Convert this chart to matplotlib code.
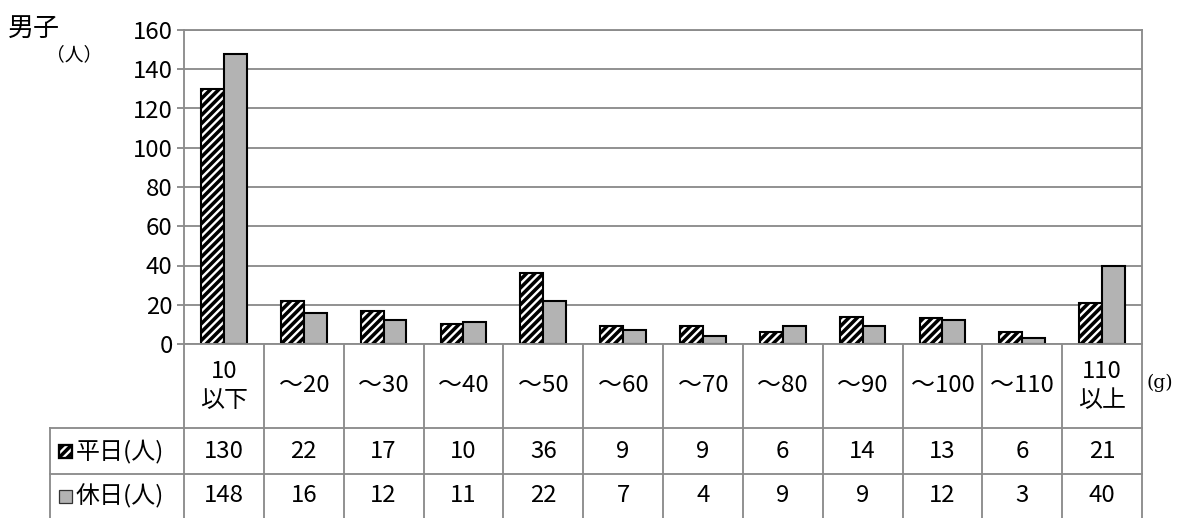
import matplotlib
matplotlib.use("Agg")
from matplotlib import pyplot as plt
from matplotlib.patches import Rectangle
import matplotlib.transforms as mtransforms
import numpy as np

plt.rcParams['font.family'] = ['Noto Sans CJK JP', 'DejaVu Sans']
plt.rcParams['hatch.linewidth'] = 3.4

# data
categories = ['10\n以下', '～20', '～30', '～40', '～50', '～60', '～70',
              '～80', '～90', '～100', '～110', '110\n以上']
weekday = [130, 22, 17, 10, 36, 9, 9, 6, 14, 13, 6, 21]
holiday = [148, 16, 12, 11, 22, 7, 4, 9, 9, 12, 3, 40]
series_names = ['平日(人)', '休日(人)']

W, H, DPI = 1179, 518, 75
GRID = '#8c8c8c'
GREY_BAR = '#b3b3b3'
FS = 23

fig = plt.figure(figsize=(W / DPI, H / DPI), dpi=DPI)

# pixel helper: figure pixel coords (top-left origin) -> figure fraction
def fx(x):
    return x / W

def fy(y):
    return 1 - y / H

left, right, top, zero = 184, 1142, 30, 344
ax = fig.add_axes([fx(left), fy(zero), fx(right - left), (zero - top) / H])

x = np.arange(len(categories))
bw = 0.285
ax.bar(x - bw / 2, weekday, bw, facecolor='white', edgecolor='black',
       hatch='///', linewidth=2.0, zorder=3)
ax.bar(x + bw / 2, holiday, bw, facecolor=GREY_BAR, edgecolor='black',
       linewidth=2.0, zorder=3)

ax.set_xlim(-0.5, len(categories) - 0.5)
ax.set_ylim(0, 160)
ax.set_yticks(np.arange(0, 161, 20))
ax.tick_params(axis='y', direction='out', length=7, width=1.8, color=GRID,
               labelsize=FS, pad=4)
ax.set_xticks([])
ax.grid(axis='y', color=GRID, linewidth=1.8, zorder=0)
ax.set_axisbelow(True)
for s in ax.spines.values():
    s.set_color(GRID)
    s.set_linewidth(1.8)
ax.spines['bottom'].set_zorder(4)

# data table under the plot
tr = mtransforms.blended_transform_factory(ax.transData, fig.transFigure)
row1, row2, bottom = 428, 474, 518
for i in range(len(categories) + 1):
    fig.add_artist(plt.Line2D([i - 0.5, i - 0.5], [fy(zero), fy(bottom)],
                              transform=tr, color=GRID, lw=1.8))
for yy in (row1, row2):
    fig.add_artist(plt.Line2D([fx(50), fx(right)], [fy(yy), fy(yy)],
                              transform=fig.transFigure, color=GRID, lw=1.8))
fig.add_artist(plt.Line2D([fx(50), fx(50)], [fy(row1), fy(bottom)],
                          transform=fig.transFigure, color=GRID, lw=1.8))

for i, c in enumerate(categories):
    fig.text(i, fy((zero + row1) / 2), c, transform=tr, ha='center',
             va='center', fontsize=FS, linespacing=1.3)
    fig.text(i, fy((row1 + row2) / 2), str(weekday[i]), transform=tr,
             ha='center', va='center', fontsize=FS)
    fig.text(i, fy((row2 + bottom) / 2), str(holiday[i]), transform=tr,
             ha='center', va='center', fontsize=FS)

# legend keys in the table
for k, (yc, name) in enumerate([((row1 + row2) / 2, series_names[0]),
                                 ((row2 + bottom) / 2, series_names[1])]):
    if k == 0:
        key = Rectangle((fx(59), fy(yc + 7)), fx(13), 13 / H,
                        transform=fig.transFigure, facecolor='white',
                        edgecolor='black', hatch='///', lw=2.2)
    else:
        key = Rectangle((fx(59), fy(yc + 7)), fx(13), 13 / H,
                        transform=fig.transFigure, facecolor=GREY_BAR,
                        edgecolor='#333333', lw=1.2)
    fig.add_artist(key)
    fig.text(fx(76), fy(yc), name, ha='left', va='center', fontsize=FS)

fig.text(fx(8), fy(28), '男子', ha='left', va='center', fontsize=25)
fig.text(fx(46), fy(55), '（人）', ha='left', va='center', fontsize=18)
fig.text(fx(1146), fy(383), '(g)', ha='left', va='center', fontsize=18,
         family='DejaVu Serif')

fig.savefig('out.png', dpi=DPI)
